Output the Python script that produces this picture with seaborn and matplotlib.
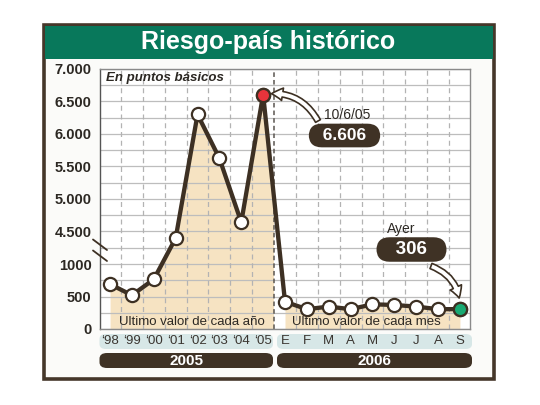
import numpy as np
import matplotlib
matplotlib.use("Agg")
import matplotlib.pyplot as plt
import seaborn as sns
from matplotlib.patches import Rectangle, FancyBboxPatch

# data
periods = ["'98", "'99", "'00", "'01", "'02", "'03", "'04", "'05",
           "E", "F", "M", "A", "M", "J", "J", "A", "S"]
values = [690, 520, 765, 4395, 6300, 5625, 4640, 6606,
          420, 305, 345, 305, 380, 370, 345, 305, 306]
ytick_vals = [0, 500, 1000, 4500, 5000, 5500, 6000, 6500, 7000]
ytick_labels = ["0", "500", "1000", "4.500", "5.000", "5.500", "6.000", "6.500", "7.000"]
ygrid_minor = [250, 750, 4250, 4750, 5250, 5750, 6250, 6750]
year_groups = ["2005", "2006"]
band_texts = ["Ultimo valor de cada año", "Ultimo valor de cada mes"]

idx = np.arange(len(values))
xlabels = [p.replace("'", "\u2018") for p in periods]

dark = "#3d3023"
green = "#08785b"
beige = "#f6e3c2"
W, H = 540, 405

sns.set_style("white")
plt.rcParams["font.family"] = ["Liberation Sans", "DejaVu Sans"]


def fwd(v):
    v = np.asarray(v, dtype=float)
    return np.where(v <= 1000, v, np.where(v >= 4000, v - 2997, 1000 + (v - 1000) * 0.001))


def inv(t):
    t = np.asarray(t, dtype=float)
    return np.where(t <= 1000, t, np.where(t >= 1003, t + 2997, 1000 + (t - 1000) / 0.001))


def fbox(x0, y0, x1, y1):
    # pixel box (top-left origin) -> figure fraction
    return x0 / W, 1 - y1 / H, (x1 - x0) / W, (y1 - y0) / H


fig = plt.figure(figsize=(5.4, 4.05), dpi=100)
fig.patch.set_facecolor("white")

# outer frame and title bar
x, y, w, h = fbox(43.5, 24.5, 494, 379)
fig.patches.append(Rectangle((x, y), w, h, transform=fig.transFigure, fc="#fbfbf9",
                             ec="#45372a", lw=2.6, zorder=-2))
x, y, w, h = fbox(45, 26, 492.5, 59)
fig.patches.append(Rectangle((x, y), w, h, transform=fig.transFigure, fc=green, ec="none", zorder=-1.5))
fig.text(268.5 / W, 1 - 42 / H, "Riesgo-país histórico", color="white", fontsize=18,
         fontweight="bold", ha="center", va="center")

# label bands under the axis
for (x0, x1), yr in zip([(99.5, 273), (277, 472)], year_groups):
    x, y, w, h = fbox(x0, 334, x1, 349)
    fig.patches.append(FancyBboxPatch((x, y), w, h, transform=fig.transFigure,
                                      boxstyle="round,pad=0,rounding_size=0.012",
                                      fc="#d7e7e7", ec="none", zorder=-1))
    x, y, w, h = fbox(x0, 353, x1, 368)
    fig.patches.append(FancyBboxPatch((x, y), w, h, transform=fig.transFigure,
                                      boxstyle="round,pad=0,rounding_size=0.014",
                                      fc="#3f3225", ec="none", zorder=-1))
    fig.text((x0 + x1) / 2 / W, 1 - 361 / H, yr, color="white", fontsize=11,
             fontweight="bold", ha="center", va="center")

ax = fig.add_axes(fbox(100, 69, 470, 329))
ax.set_facecolor("white")
ax.set_yscale("function", functions=(fwd, inv))
ax.set_ylim(0, 7000)
ax.set_xlim(-0.46, 16.46)

ax.set_yticks(ytick_vals, labels=ytick_labels)
ax.set_yticks(ygrid_minor, minor=True)
ax.set_xticks(idx, labels=xlabels)
ax.tick_params(axis="y", which="both", length=0, pad=6, labelsize=10.5, labelcolor="#2c2823")
ax.tick_params(axis="x", length=0, pad=4, labelsize=9.5, labelcolor="#3a3530")
for lab in ax.get_yticklabels():
    lab.set_fontweight("bold")
ax.grid(axis="y", which="both", color="#bdbdbd", lw=0.9)
ax.grid(axis="x", visible=False)
for i in range(16):
    if i == 7:
        ax.axvline(i + 0.5, color="#5a5550", lw=1.1, ls=(0, (3, 2)), zorder=1.5)
    else:
        ax.axvline(i + 0.5, color="#b3b3b3", lw=0.9, ls=(0, (4, 3)), zorder=1)
for s in ax.spines.values():
    s.set_color("#8a8a8a")
    s.set_linewidth(1)
ax.spines["left"].set_color("#555")

# beige fills under the line
f1 = ax.fill_between(idx[:9], values[:9], 0, color=beige, lw=0, zorder=0.5)
f1.set_clip_path(Rectangle((-1, 0), 8.45, 8000, transform=ax.transData))
ax.fill_between(idx[8:], values[8:], 0, color=beige, lw=0, zorder=0.5)

sns.lineplot(x=idx, y=values, ax=ax, color=dark, lw=3.1, marker="o", markersize=9.5,
             markerfacecolor="white", markeredgecolor=dark, markeredgewidth=1.6, zorder=3)
ax.plot(idx[7], values[7], "o", ms=9.5, mfc="#e8343b", mec=dark, mew=1.6, zorder=4)
ax.plot(idx[16], values[16], "o", ms=9.5, mfc="#19aa73", mec=dark, mew=1.6, zorder=4)

# texts inside
ax.text(6 / 370, (329 - 78) / 260, "En puntos básicos", transform=ax.transAxes,
        fontsize=9.5, fontweight="bold", style="italic", color="#2c2823", va="center")
ax.text((191.5 - 100) / 370, 7 / 260, band_texts[0], transform=ax.transAxes,
        fontsize=9.5, color="#2c2823", ha="center", va="center")
ax.text((366 - 100) / 370, 7 / 260, band_texts[1], transform=ax.transAxes,
        fontsize=9.5, color="#2c2823", ha="center", va="center")

# peak annotation
ax.text((347 - 100) / 370, (329 - 115) / 260, "10/6/05", transform=ax.transAxes,
        fontsize=10, color="#2c2823", ha="center", va="center")
ax.text((344.5 - 100) / 370, (329 - 135.5) / 260, "  6.606  ", transform=ax.transAxes,
        fontsize=12.5, fontweight="bold", color="white", ha="center", va="center",
        bbox=dict(boxstyle="round,pad=0.25,rounding_size=0.75", fc="#3f3225", ec="none"))
ax.annotate("", xy=(idx[7], values[7]), xytext=((318 - 100) / 370, (329 - 121) / 260),
            textcoords="axes fraction",
            arrowprops=dict(arrowstyle="simple,head_length=0.8,head_width=0.9,tail_width=0.4",
                            fc="white", ec=dark, lw=1.2, connectionstyle="arc3,rad=0.35",
                            shrinkA=0, shrinkB=6), zorder=5)

# last value annotation
ax.text((401 - 100) / 370, (329 - 229) / 260, "Ayer", transform=ax.transAxes,
        fontsize=10, color="#2c2823", ha="center", va="center")
ax.text((411.5 - 100) / 370, (329 - 249.5) / 260, "   306   ", transform=ax.transAxes,
        fontsize=13.5, fontweight="bold", color="white", ha="center", va="center",
        bbox=dict(boxstyle="round,pad=0.2,rounding_size=0.7", fc="#3f3225", ec="none"))
ax.annotate("", xy=(idx[16], values[16]), xytext=((431 - 100) / 370, (329 - 266) / 260),
            textcoords="axes fraction",
            arrowprops=dict(arrowstyle="simple,head_length=0.8,head_width=0.9,tail_width=0.4",
                            fc="white", ec=dark, lw=1.2, connectionstyle="arc3,rad=-0.35",
                            shrinkA=0, shrinkB=8), zorder=5)

# axis break marks
for yb in (239.5, 250.5):
    ax.plot([-7 / 370, 7 / 370], [(329 - yb) / 260, (329 - yb - 10.5) / 260],
            transform=ax.transAxes, color=dark, lw=1.3, clip_on=False, zorder=6)

fig.savefig("out.png", dpi=100)
